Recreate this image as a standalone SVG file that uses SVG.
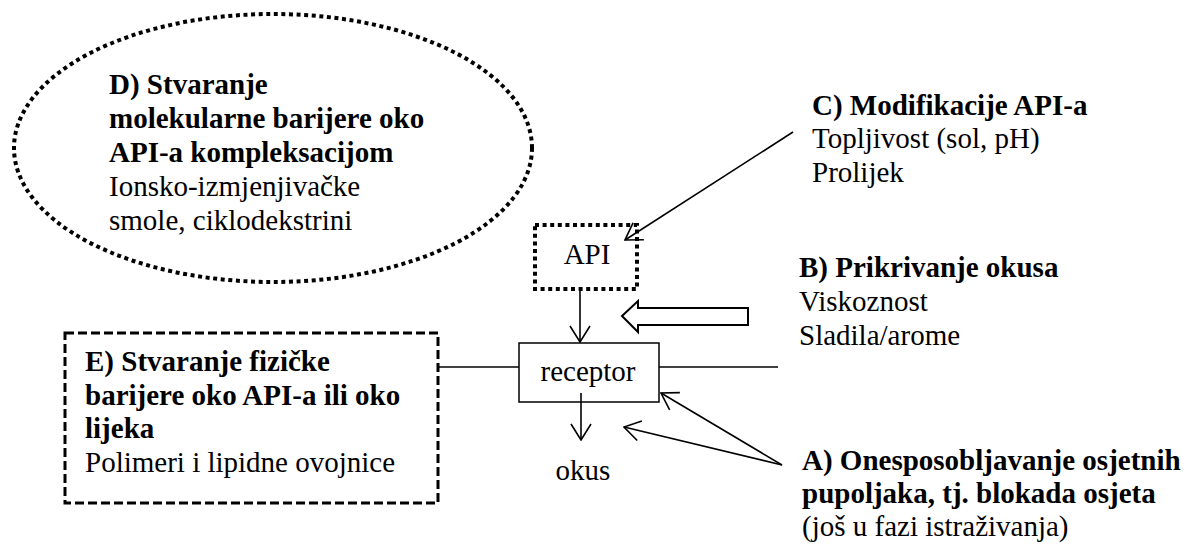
<svg xmlns="http://www.w3.org/2000/svg" width="1189" height="555" viewBox="0 0 1189 555">
<style>
text{font-family:'Liberation Serif','Tinos','Times New Roman','Nimbus Roman','DejaVu Serif',serif;font-size:29px;fill:#000}
.b{font-weight:bold}
.c{text-anchor:middle}
.ln{stroke:#000;stroke-width:1.6;fill:none}
.dot{fill:none;stroke:#000;stroke-width:4;stroke-dasharray:4 3.6}
.dash{fill:none;stroke:#000;stroke-width:3;stroke-dasharray:9 4}
</style>
<defs>
<marker id="arr" viewBox="0 0 18 22" refX="17" refY="11" markerWidth="18" markerHeight="22" markerUnits="userSpaceOnUse" orient="auto">
<path d="M1,1 L17,11 L1,21" fill="none" stroke="#000" stroke-width="1.6"/>
</marker>
</defs>
<rect width="1189" height="555" fill="#fff"/>
<g id="nodeD">
<ellipse class="dot" cx="273" cy="148" rx="259" ry="134"/>
<text x="109" y="94" class="b">D) Stvaranje</text>
<text x="109" y="128" class="b">molekularne barijere oko</text>
<text x="109" y="162" class="b">API-a kompleksacijom</text>
<text x="109" y="196">Ionsko-izmjenjivačke</text>
<text x="109" y="230">smole, ciklodekstrini</text>
</g>
<g id="nodeC">
<text x="812" y="115" class="b">C) Modifikacije API-a</text>
<text x="812" y="148">Topljivost (sol, pH)</text>
<text x="812" y="182">Prolijek</text>
</g>
<g id="nodeAPI">
<rect class="dot" x="535" y="225" width="102" height="64"/>
<text x="587" y="264" class="c">API</text>
</g>
<g id="nodeB">
<text x="799" y="277" class="b">B) Prikrivanje okusa</text>
<text x="799" y="311">Viskoznost</text>
<text x="799" y="345">Sladila/arome</text>
</g>
<g id="nodeE">
<rect class="dash" x="65" y="333" width="373" height="170"/>
<text x="85" y="371" class="b">E) Stvaranje fizičke</text>
<text x="85" y="405" class="b">barijere oko API-a ili oko</text>
<text x="85" y="438" class="b">lijeka</text>
<text x="85" y="472">Polimeri i lipidne ovojnice</text>
</g>
<g id="nodeReceptor">
<rect x="519" y="343" width="140" height="59" fill="#fff" stroke="#000" stroke-width="1.5"/>
<text x="588" y="381" class="c">receptor</text>
</g>
<g id="nodeOkus">
<text x="583" y="480" class="c">okus</text>
</g>
<g id="nodeA">
<text x="802" y="470" class="b">A) Onesposobljavanje osjetnih</text>
<text x="802" y="503" class="b">pupoljaka, tj. blokada osjeta</text>
<text x="802" y="536">(još u fazi istraživanja)</text>
</g>
<g id="connectors">
<line class="ln" x1="438" y1="367" x2="519" y2="367"/>
<line class="ln" x1="659" y1="367" x2="778" y2="367"/>
<line class="ln" x1="580" y1="289" x2="580" y2="342" marker-end="url(#arr)"/>
<line class="ln" x1="581" y1="393" x2="581" y2="440" marker-end="url(#arr)"/>
<line class="ln" x1="793" y1="132" x2="625" y2="240" stroke-width="2" marker-end="url(#arr)"/>
<line class="ln" x1="782" y1="465" x2="661" y2="393" marker-end="url(#arr)"/>
<line class="ln" x1="782" y1="465" x2="624" y2="427" marker-end="url(#arr)"/>
<polygon points="622,316 638,301 638,308 748,308 748,325 638,325 638,332" fill="#fff" stroke="#000" stroke-width="2"/>
</g>
</svg>
